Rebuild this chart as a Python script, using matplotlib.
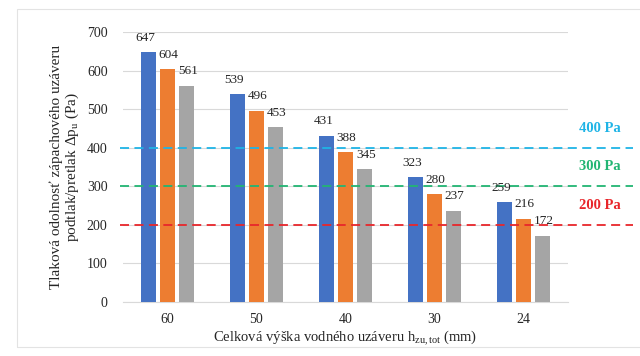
import matplotlib
matplotlib.use("Agg")
import matplotlib.pyplot as plt
import numpy as np
from matplotlib import rcParams
from matplotlib.patches import Rectangle
import matplotlib.transforms as mtransforms

# 数据
categories = ["60", "50", "40", "30", "24"]
series_a = [647, 539, 431, 323, 259]
series_b = [604, 496, 388, 280, 216]
series_c = [561, 453, 345, 237, 172]
limits = [400, 300, 200]
limit_labels = ["400 Pa", "300 Pa", "200 Pa"]

# 字体设置
rcParams["font.family"] = ["Liberation Serif", "DejaVu Serif"]
rcParams["font.size"] = 9
rcParams["mathtext.fontset"] = "custom"
rcParams["mathtext.rm"] = "Liberation Serif"
rcParams["mathtext.it"] = "Liberation Serif"

fig = plt.figure(figsize=(6.4, 3.56), dpi=100)
ax = fig.add_axes([0.192, 0.152, 0.695, 0.758])

# 外框
fig.patches.append(Rectangle((17 / 640, 9 / 356), 1.0, 338 / 356,
                             transform=fig.transFigure, fill=False,
                             edgecolor="#E3E3E3", linewidth=0.8))

x = np.arange(len(categories))
w = 0.17
off = 0.215
colors = ["#4472C4", "#ED7D31", "#A5A5A5"]
for i, (vals, c) in enumerate(zip([series_a, series_b, series_c], colors)):
    bars = ax.bar(x + (i - 1) * off, vals, width=w, color=c, zorder=3)
    for b, v in zip(bars, vals):
        ax.annotate(str(v), (b.get_x() + b.get_width() / 2, v),
                    xytext=(1 if i else -2, 6), textcoords="offset points",
                    ha="center", va="bottom", fontsize=9.5, color="#262626",
                    zorder=5)

# 限值虚线
lcolors = ["#1FB4E6", "#22B573", "#E8262B"]
trans = mtransforms.blended_transform_factory(ax.transAxes, ax.transData)
for val, lab, c in zip(limits, limit_labels, lcolors):
    ax.plot([-0.007, 1.146], [val, val], transform=trans, color=c,
            linestyle=(0, (5, 3)), linewidth=1.3, clip_on=False, zorder=4)
    ax.text(1.072, val + 50, lab, transform=trans, color=c, fontsize=10.5,
            fontweight="bold", ha="center", va="center")

ax.set_xlim(-0.5, len(categories) - 0.5)
ax.set_ylim(0, 700)
ax.set_yticks(np.arange(0, 701, 100))
ax.set_xticks(x)
ax.set_xticklabels(categories)
ax.yaxis.grid(True, color="#D9D9D9", linewidth=0.8, zorder=0)
ax.set_axisbelow(True)
for s in ["top", "right", "left"]:
    ax.spines[s].set_visible(False)
ax.spines["bottom"].set_color("#D9D9D9")
ax.tick_params(axis="both", length=0, labelsize=10, colors="#262626")
ax.tick_params(axis="x", pad=8)
ax.tick_params(axis="y", pad=11)

ax.set_ylabel("Tlaková odolnosť zápachového uzáveru\npodtlak/pretlak Δp$_{u}$ (Pa)",
              fontsize=11, color="#262626", labelpad=4, linespacing=1.05)
ax.set_xlabel("Celková výška vodného uzáveru h$_{zu,tot}$ (mm)",
              fontsize=10.5, color="#262626", labelpad=2)

fig.savefig("out.png", dpi=100)
